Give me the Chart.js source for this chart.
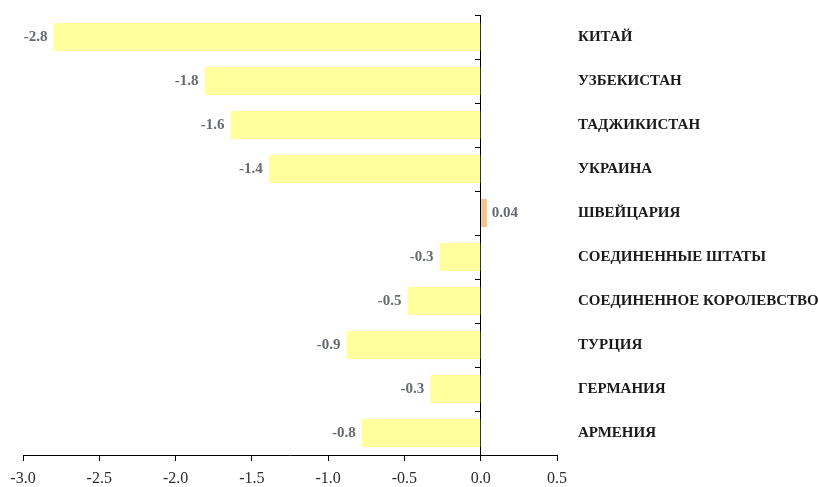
<!DOCTYPE html>
<html>
<head>
<meta charset="utf-8">
<script src="https://cdn.jsdelivr.net/npm/chart.js@4.4.1/dist/chart.umd.min.js"></script>
<style>
  html, body { margin: 0; padding: 0; background: #fff; }
  #wrap { width: 819px; height: 487px; }
</style>
</head>
<body>
<div id="wrap"><canvas id="barChart" width="819" height="487"></canvas></div>
<script>
// Countries (top to bottom) and their values
var countries = ['КИТАЙ', 'УЗБЕКИСТАН', 'ТАДЖИКИСТАН', 'УКРАИНА', 'ШВЕЙЦАРИЯ',
    'СОЕДИНЕННЫЕ ШТАТЫ', 'СОЕДИНЕННОЕ КОРОЛЕВСТВО', 'ТУРЦИЯ', 'ГЕРМАНИЯ', 'АРМЕНИЯ'];
var values = [-2.8, -1.81, -1.64, -1.39, 0.04, -0.27, -0.48, -0.88, -0.33, -0.78];
var valueLabels = ['-2.8', '-1.8', '-1.6', '-1.4', '0.04', '-0.3', '-0.5', '-0.9', '-0.3', '-0.8'];
var xTicks = [-3.0, -2.5, -2.0, -1.5, -1.0, -0.5, 0.0, 0.5];

var serif = '"Liberation Serif", "Times New Roman", serif';

// draw value labels next to the bar ends
var valueLabelPlugin = {
    id: 'valueLabels',
    afterDatasetsDraw: function (chart) {
        var ctx = chart.ctx;
        var meta = chart.getDatasetMeta(0);
        ctx.save();
        ctx.font = 'bold 15px ' + serif;
        ctx.fillStyle = '#676a70';
        ctx.textBaseline = 'middle';
        meta.data.forEach(function (bar, i) {
            if (values[i] < 0) {
                ctx.textAlign = 'right';
                ctx.fillText(valueLabels[i], bar.x - 6, bar.y);
            } else {
                ctx.textAlign = 'left';
                ctx.fillText(valueLabels[i], bar.x + 5, bar.y);
            }
        });
        ctx.restore();
    }
};

// no extra padding from tick labels, layout padding decides the plot area
function noScalePadding(scale) {
    scale.paddingTop = 0;
    scale.paddingBottom = 0;
    scale.paddingLeft = 0;
    scale.paddingRight = 0;
}

var ctx = document.getElementById('barChart').getContext('2d');
var barChart = new Chart(ctx, {
    type: 'bar',
    data: {
        labels: countries,
        datasets: [{
            data: values,
            backgroundColor: values.map(v => v >= 0 ? '#f6c38e' : '#ffff9e'),
            borderWidth: 0,
            categoryPercentage: 1.0,
            barPercentage: 0.64,
            xAxisID: 'x',
            yAxisID: 'y'
        }]
    },
    options: {
        indexAxis: 'y',
        responsive: false,
        animation: false,
        devicePixelRatio: 1,
        layout: { padding: { top: 15, left: 23, right: 0, bottom: 0 } },
        plugins: {
            legend: { display: false },
            tooltip: { enabled: false }
        },
        scales: {
            x: {
                type: 'linear',
                position: 'bottom',
                min: xTicks[0],
                max: xTicks[xTicks.length - 1],
                afterBuildTicks: function (scale) {
                    scale.ticks = xTicks.map(v => ({ value: v }));
                },
                ticks: {
                    color: '#2a2a2a',
                    font: { family: serif, size: 16 },
                    padding: 8,
                    maxRotation: 0,
                    callback: function (v) { return Number(v).toFixed(1); }
                },
                grid: { drawOnChartArea: false, tickLength: 6, color: '#000', lineWidth: 1 },
                border: { display: true, color: '#000', width: 1 },
                afterFit: function (scale) { scale.height = 32; noScalePadding(scale); }
            },
            y: {
                type: 'category',
                position: 'right',
                grid: { display: false },
                border: { display: false },
                ticks: {
                    color: '#1a1a1a',
                    crossAlign: 'near',
                    padding: 13,
                    font: { family: serif, size: 15, weight: 'bold' }
                },
                afterFit: function (scale) { scale.width = 262; noScalePadding(scale); }
            },
            yz: {
                type: 'category',
                position: { x: 0 },
                offset: true,
                grid: { offset: true, drawOnChartArea: false, tickLength: 5, color: '#000' },
                border: { display: true, color: '#000', width: 1 },
                ticks: { display: false }
            }
        }
    },
    plugins: [valueLabelPlugin]
});
</script>
</body>
</html>
